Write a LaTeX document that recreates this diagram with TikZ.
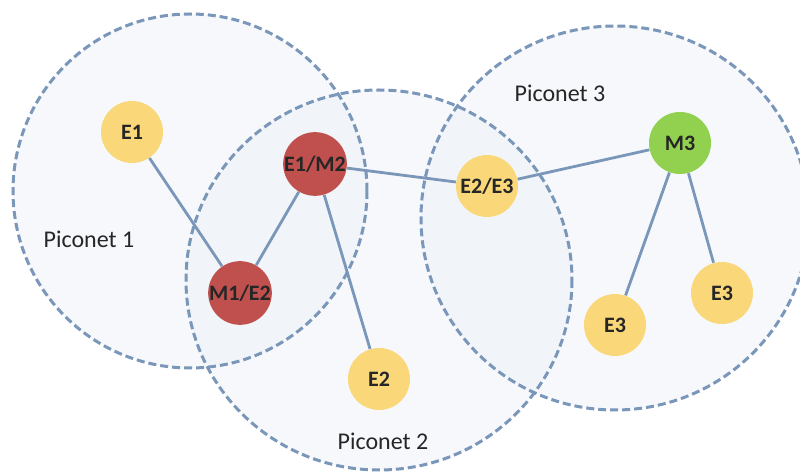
\documentclass[tikz,border=0pt]{standalone}
\usepackage{fontspec}
\setmainfont{Carlito}
\begin{document}
\begin{tikzpicture}[x=0.5pt,y=-0.5pt,
  netarea/.style={fill=netfill, fill opacity=0.55},
  netedge/.style={draw=linkblue, line width=1.5pt, dash pattern=on 4pt off 2pt},
  link/.style={draw=linkblue, line width=1.4pt},
  device/.style={circle, minimum size=31pt, inner sep=0pt,
    font=\fontsize{11}{13}\selectfont\bfseries, text=black!85},
  slave/.style={device, fill=slaveyellow},
  bridge/.style={device, fill=bridgered},
  master/.style={device, fill=mastergreen},
  netlabel/.style={font=\fontsize{12}{14}\selectfont, text=black!85}]
\definecolor{linkblue}{RGB}{122,150,185}
\definecolor{netfill}{RGB}{238,243,249}
\definecolor{slaveyellow}{RGB}{250,216,122}
\definecolor{bridgered}{RGB}{192,80,77}
\definecolor{mastergreen}{RGB}{146,208,80}

\useasboundingbox (0,0) rectangle (800,475);
\begin{scope}
\clip (0,0) rectangle (800,475);
% piconet areas, filled first, outlined afterwards
\path[netarea] (190,191) ellipse [x radius=177, y radius=177];
\path[netarea] (379,280) ellipse [x radius=193, y radius=190];
\path[netarea] (615,218) ellipse [x radius=194, y radius=192];
\path[netedge] (190,191) ellipse [x radius=177, y radius=177];
\path[netedge] (379,280) ellipse [x radius=193, y radius=190];
\path[netedge] (615,218) ellipse [x radius=194, y radius=192];
\end{scope}

% labels of the piconets
\node[netlabel] (p1) at (89,239) {Piconet 1};
\node[netlabel] (p2) at (383,441) {Piconet 2};
\node[netlabel] (p3) at (560,93) {Piconet 3};

% devices
\node[slave]  (e1)   at (132,132) {E1};
\node[bridge] (e1m2) at (315,164) {E1/M2};
\node[bridge] (m1e2) at (240,293) {M1/E2};
\node[slave]  (e2)   at (379,379) {E2};
\node[slave]  (e2e3) at (487,186) {E2/E3};
\node[master] (m3)   at (680,143) {M3};
\node[slave]  (e3a)  at (615,325) {E3};
\node[slave]  (e3b)  at (722,293) {E3};

% links
\draw[link] (e1) -- (m1e2);
\draw[link] (m1e2) -- (e1m2);
\draw[link] (e1m2) -- (e2);
\draw[link] (e1m2) -- (e2e3);
\draw[link] (e2e3) -- (m3);
\draw[link] (m3) -- (e3a);
\draw[link] (m3) -- (e3b);
\end{tikzpicture}
\end{document}
